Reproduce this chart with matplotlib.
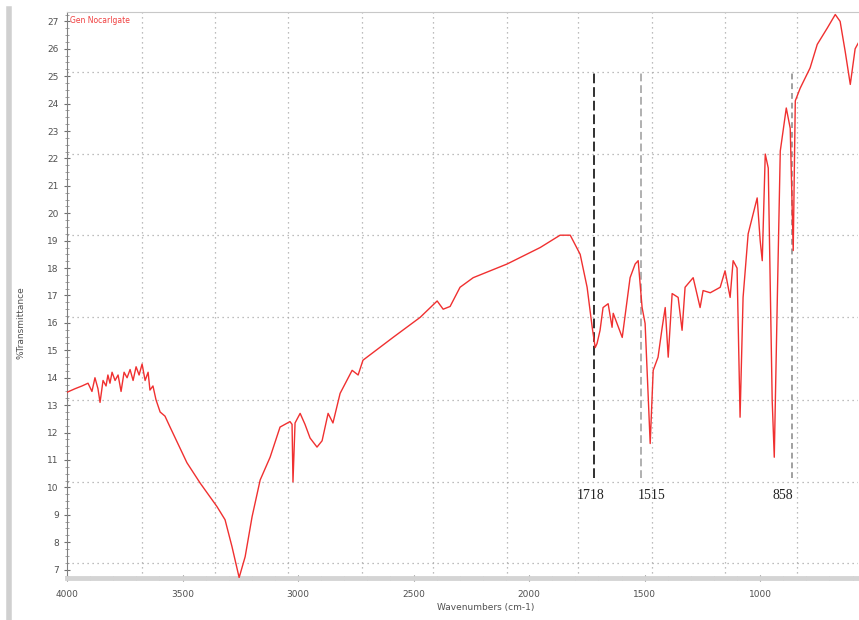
import numpy as np
import matplotlib.pyplot as plt
from matplotlib.ticker import MultipleLocator

# ==========================================
# FTIR spectrum data
# ==========================================
wavenumber = [4000, 3965, 3935, 3909, 3892, 3879, 3866, 3857, 3844, 3831,
              3823, 3814, 3805, 3792, 3779, 3766, 3753, 3740, 3727, 3714,
              3701, 3688, 3675, 3662, 3649, 3641, 3628, 3615, 3597, 3576,
              3554, 3481, 3424, 3351, 3316, 3286, 3255, 3229, 3199, 3164,
              3121, 3078, 3035, 3026, 3022, 3013, 2991, 2970, 2948, 2918,
              2896, 2870, 2849, 2818, 2766, 2740, 2719, 2589, 2472, 2398,
              2372, 2342, 2299, 2242, 2095, 1952, 1866, 1822, 1779, 1749,
              1727, 1714, 1706, 1693, 1680, 1658, 1641, 1636, 1597, 1563,
              1541, 1528, 1511, 1498, 1476, 1463, 1442, 1424, 1411, 1398,
              1381, 1355, 1338, 1325, 1290, 1260, 1247, 1216, 1173, 1152,
              1130, 1117, 1100, 1087, 1074, 1052, 1013, 1000, 991, 978,
              965, 948, 939, 926, 913, 887, 870, 857, 848, 827,
              784, 753, 710, 675, 654, 632, 610, 589, 576]
transmittance = [13.47, 13.6, 13.7, 13.8, 13.5, 14.0, 13.6, 13.1, 13.9, 13.7,
                 14.1, 13.8, 14.2, 13.9, 14.1, 13.5, 14.2, 14.0, 14.3, 13.9,
                 14.4, 14.1, 14.5, 13.9, 14.2, 13.55, 13.7, 13.2, 12.75, 12.6,
                 12.2, 10.9, 10.16, 9.3, 8.82, 7.84, 6.71, 7.47, 8.93, 10.27,
                 11.1, 12.2, 12.4, 12.3, 10.2, 12.35, 12.7, 12.3, 11.8, 11.47,
                 11.7, 12.7, 12.35, 13.43, 14.27, 14.1, 14.64, 15.47, 16.2, 16.8,
                 16.5, 16.6, 17.3, 17.65, 18.15, 18.75, 19.2, 19.2, 18.5, 17.3,
                 15.84, 15.1, 15.25, 15.73, 16.56, 16.7, 15.84, 16.35, 15.47, 17.65,
                 18.15, 18.27, 16.56, 15.98, 11.6, 14.27, 14.75, 15.84, 16.56, 14.75,
                 17.07, 16.93, 15.73, 17.3, 17.65, 16.56, 17.18, 17.1, 17.3, 17.9,
                 16.93, 18.27, 18.0, 12.56, 16.93, 19.25, 20.56, 19.0, 18.27, 22.16,
                 21.65, 13.18, 11.1, 16.8, 22.27, 23.84, 23.1, 18.64, 24.1, 24.56,
                 25.3, 26.16, 26.75, 27.25, 27.0, 25.9, 24.7, 26.0, 26.2]

peak_labels = ["1718", "1515", "858"]
peak_pos = [1718, 1515, 861]
peak_text_pos = [1736, 1472, 900]

grid_x = [3675, 3359, 3043, 2723, 2416, 2095, 1788, 1468, 1152, 840]
grid_y = [25.15, 22.17, 19.2, 16.2, 13.2, 10.2, 7.25]

# ==========================================
# Plot
# ==========================================
fig = plt.figure(figsize=(8.59, 6.2), dpi=100)
ax = fig.add_axes([0.078, 0.068, 0.921, 0.913])

for gx in grid_x:
    ax.axvline(gx, color='#a8a8a8', linestyle=(0, (1, 3)), linewidth=0.9, zorder=0)
for gy in grid_y:
    ax.axhline(gy, color='#a8a8a8', linestyle=(0, (1, 3)), linewidth=0.9, zorder=0)

ax.plot(wavenumber, transmittance, color='#f03030', linewidth=1.0, zorder=3)

styles = [('#303030', (0, (5, 2))), ('#b0b0b0', (0, (4, 2))), ('#a0a0a0', (0, (3, 2)))]
for pos, lab, tpos, (col, ls) in zip(peak_pos, peak_labels, peak_text_pos, styles):
    ax.plot([pos, pos], [10.35, 25.2], color=col, linestyle=ls, linewidth=1.4, zorder=2)
    ax.text(tpos, 9.7, lab, ha='center', va='center', fontsize=10,
            family='Liberation Serif', color='#222222')

ax.set_xlim(4000, 576)
ax.set_ylim(6.7, 27.35)
ax.set_xticks([4000, 3500, 3000, 2500, 2000, 1500, 1000])
ax.xaxis.set_minor_locator(MultipleLocator(100))
ax.set_yticks(range(7, 28))
ax.yaxis.set_minor_locator(MultipleLocator(0.25))
ax.tick_params(axis='both', which='major', direction='inout', length=5,
               labelsize=6.5, labelcolor='#505050', color='#707070')
ax.tick_params(axis='both', which='minor', direction='inout', length=2.5, color='#909090')
ax.tick_params(axis='x', pad=6)

ax.spines['right'].set_visible(False)
ax.spines['top'].set_color('#c8c8c8')
ax.spines['left'].set_color('#808080')
ax.spines['bottom'].set_color('#d4d4d4')
ax.spines['bottom'].set_linewidth(3.5)

ax.text(3985, 27.05, "Gen Nocarlgate", color='#f04040', fontsize=5.5, va='center')

fig.text(0.565, 0.02, "Wavenumbers (cm-1)", ha='center', va='center', fontsize=6.5, color='#505050')
fig.text(0.024, 0.48, "%Transmittance", ha='center', va='center', rotation=90,
         fontsize=6.5, color='#505050')

# window frame strip on the left edge
fig.add_artist(plt.Line2D([0.011, 0.011], [0.0, 0.985], color='#d0d0d0', linewidth=4,
                          transform=fig.transFigure))

fig.savefig("out.png", dpi=100)
